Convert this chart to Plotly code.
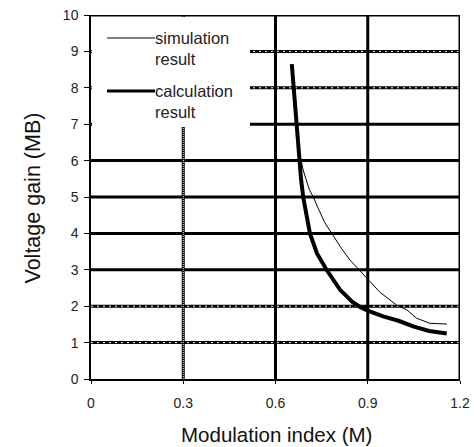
import plotly.graph_objects as go

# ---- data ----
calc_x = [0.653, 0.657, 0.661, 0.665, 0.669, 0.673, 0.677, 0.683, 0.69, 0.70, 0.712, 0.735,
          0.766, 0.81, 0.85, 0.875, 0.9, 0.95, 1.0, 1.05, 1.1, 1.157]
calc_y = [8.65, 8.2, 7.8, 7.4, 7.0, 6.5, 6.0, 5.5, 5.0, 4.5, 4.0, 3.45,
          3.0, 2.45, 2.12, 1.98, 1.88, 1.72, 1.6, 1.44, 1.32, 1.25]
sim_x = [0.676, 0.69, 0.71, 0.723, 0.734, 0.76, 0.783, 0.815, 0.842, 0.87, 0.897,
         0.94, 0.994, 1.027, 1.059, 1.102, 1.157]
sim_y = [6.3, 5.74, 5.2, 5.0, 4.78, 4.3, 4.0, 3.58, 3.27, 3.0, 2.77,
         2.38, 2.03, 1.9, 1.67, 1.53, 1.51]
x_ticks = [0, 0.3, 0.6, 0.9, 1.2]
x_tick_labels = ["0", "0.3", "0.6", "0.9", "1.2"]
y_ticks = list(range(0, 11))
series_names = ["simulation<br>result", "calculation<br>result"]
x_title = "Modulation index (M)"
y_title = "Voltage gain (MB)"

# ---- geometry ----
W, H = 474, 447
ML, MR, MT, MB = 91, 14, 15, 68
PW, PH = W - ML - MR, H - MT - MB
def px(x):
    return (x - ML) / PW
def py(y):
    return 1 - (y - MT) / PH
def dx(x):
    return (x - ML) / PW * 1.2
def dy(y):
    return (1 - (y - MT) / PH) * 10

FONT = "Liberation Sans, Arial, sans-serif"

fig = go.Figure()
fig.add_trace(go.Scatter(x=sim_x, y=sim_y, mode="lines",
                         line=dict(color="black", width=1), name="sim", showlegend=False))
fig.add_trace(go.Scatter(x=calc_x, y=calc_y, mode="lines",
                         line=dict(color="black", width=4), name="calc", showlegend=False))

shapes = []
# horizontal grid lines
for yv in [1, 2, 3, 4, 5, 6, 7, 8, 9]:
    shapes.append(dict(type="line", xref="x", yref="y", x0=0, x1=1.2, y0=yv, y1=yv,
                       line=dict(color="black", width=3), layer="below"))
    if yv in (1, 2, 8, 9):
        shapes.append(dict(type="line", xref="x", yref="y", x0=0, x1=1.2, y0=yv, y1=yv,
                           line=dict(color="white", width=1, dash="2px,4px"), layer="below"))
# vertical grid lines
shapes.append(dict(type="line", xref="x", yref="y", x0=0.3, x1=0.3, y0=0, y1=10,
                   line=dict(color="black", width=3), layer="below"))
shapes.append(dict(type="line", xref="x", yref="y", x0=0.3, x1=0.3, y0=0, y1=10,
                   line=dict(color="white", width=1, dash="1px,1px"), layer="below"))
for xv in [0.6, 0.9]:
    shapes.append(dict(type="line", xref="x", yref="y", x0=xv, x1=xv, y0=0, y1=10,
                       line=dict(color="black", width=3), layer="below"))
# white legend box hiding grid
shapes.append(dict(type="rect", xref="x", yref="y", x0=dx(92), x1=dx(250),
                   y0=dy(127), y1=dy(17), fillcolor="white", line=dict(width=0), layer="below"))
# top and right borders
shapes.append(dict(type="line", xref="x", yref="y", x0=0, x1=1.2, y0=10, y1=10,
                   line=dict(color="black", width=3), layer="below"))
shapes.append(dict(type="line", xref="x", yref="y", x0=1.2, x1=1.2, y0=0, y1=10,
                   line=dict(color="black", width=3), layer="below"))
# legend samples
shapes.append(dict(type="line", xref="paper", yref="paper", x0=px(107), x1=px(155),
                   y0=py(38), y1=py(38), line=dict(color="black", width=1)))
shapes.append(dict(type="line", xref="paper", yref="paper", x0=px(107), x1=px(155),
                   y0=py(91), y1=py(91), line=dict(color="black", width=3)))

annotations = [
    dict(xref="paper", yref="paper", x=px(153), y=py(27), xanchor="left", yanchor="top",
         text=series_names[0], showarrow=False, align="left",
         font=dict(family=FONT, size=16.5, color="#222")),
    dict(xref="paper", yref="paper", x=px(153), y=py(80), xanchor="left", yanchor="top",
         text=series_names[1], showarrow=False, align="left",
         font=dict(family=FONT, size=16.5, color="#222")),
    dict(xref="paper", yref="paper", x=px(276.5), y=py(435), xanchor="center", yanchor="middle",
         text=x_title, showarrow=False,
         font=dict(family=FONT, size=20.5, color="#111")),
    dict(xref="paper", yref="paper", x=px(32), y=py(198.5), xanchor="center", yanchor="middle",
         text=y_title, showarrow=False, textangle=-90,
         font=dict(family=FONT, size=21.5, color="#111")),
]

fig.update_layout(
    width=W, height=H,
    margin=dict(l=ML, r=MR, t=MT, b=MB, pad=0, autoexpand=False),
    paper_bgcolor="white", plot_bgcolor="white",
    showlegend=False,
    shapes=shapes, annotations=annotations,
    font=dict(family=FONT, color="#222"),
    xaxis=dict(range=[0, 1.2], tickvals=x_ticks, ticktext=x_tick_labels, automargin=False,
               showgrid=False, zeroline=False, showline=True, linecolor="black", linewidth=1.5,
               ticks="outside", ticklen=3, tickwidth=1, tickcolor="black",
               ticklabelstandoff=7,
               tickfont=dict(family=FONT, size=14, color="#222")),
    yaxis=dict(range=[0, 10], tickvals=y_ticks, automargin=False,
               showgrid=False, zeroline=False, showline=True, linecolor="black", linewidth=1.5,
               ticks="outside", ticklen=5, tickwidth=1, tickcolor="black",
               ticklabelstandoff=3,
               tickfont=dict(family=FONT, size=14, color="#222")),
)

fig.write_html("out.html", config={"displayModeBar": False},
               post_script="document.body.style.margin='0';document.body.style.padding='0';")
